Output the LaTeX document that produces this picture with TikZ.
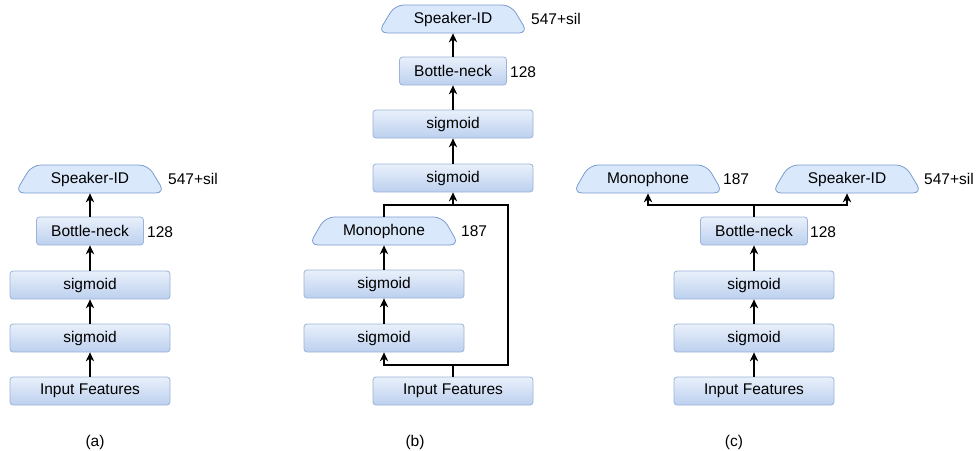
\documentclass[tikz,border=0pt]{standalone}
\usepackage{fontspec}
\setmainfont{Liberation Sans}
\usetikzlibrary{shapes.geometric,arrows.meta}
\definecolor{boxline}{HTML}{9AB3D8}
\definecolor{boxtop}{HTML}{E9F0FB}
\definecolor{boxbot}{HTML}{BCD0EE}
\definecolor{outfill}{HTML}{DAE8FC}
\definecolor{outline}{HTML}{7B9DCF}

\begin{document}
\begin{tikzpicture}[x=1pt,y=-1pt,
    font=\fontsize{15.5}{18}\selectfont,
    layer/.style={rectangle,rounded corners=3pt,draw=boxline,line width=0.8pt,
      top color=boxtop,bottom color=boxbot,minimum width=160pt,minimum height=28pt,inner sep=0pt},
    bneck/.style={layer,minimum width=107pt},
    outlayer/.style={trapezium,trapezium left angle=52,trapezium right angle=52,
      rounded corners=9pt,draw=outline,line width=0.8pt,fill=outfill,
      minimum width=150pt,minimum height=28pt,inner sep=0pt,trapezium stretches=true},
    dim/.style={anchor=west,inner sep=0pt},
    arr/.style={-{Stealth[length=9pt,width=8.5pt]},line width=1.2pt},
    lnk/.style={line width=1.2pt}]
  \useasboundingbox (0,0) rectangle (977,450);

  % (a)
  \node[layer] (inA) at (90,391) {Input Features};
  \node[layer] (sigA1) at (90,338) {sigmoid};
  \node[layer] (sigA2) at (90,285) {sigmoid};
  \node[bneck] (bnA) at (90,231) {Bottle-neck};
  \node[outlayer] (spkA) at (90,179) {Speaker-ID};
  \node[dim] (bnAdim) at (147,232) {128};
  \node[dim] (spkAdim) at (168,179) {547+sil};
  \draw[arr] (inA) -- (sigA1);
  \draw[arr] (sigA1) -- (sigA2);
  \draw[arr] (sigA2) -- (bnA);
  \draw[arr] (bnA) -- (bnA |- spkA.south);
  \node (capA) at (95,442) {(a)};

  % (b)
  \node[layer] (inB) at (453,391) {Input Features};
  \node[layer] (sigB1) at (384,338) {sigmoid};
  \node[layer] (sigB2) at (384,284) {sigmoid};
  \node[outlayer] (monoB) at (384,231) {Monophone};
  \node[layer] (sigB3) at (453,178) {sigmoid};
  \node[layer] (sigB4) at (453,124) {sigmoid};
  \node[bneck] (bnB) at (453,71) {Bottle-neck};
  \node[outlayer] (spkB) at (453,19) {Speaker-ID};
  \node[dim] (monoBdim) at (461,231) {187};
  \node[dim] (bnBdim) at (510,72) {128};
  \node[dim] (spkBdim) at (531,19) {547+sil};
  \coordinate (splitB) at (453,365);
  \coordinate (bypassB) at (508,205);
  \draw[lnk] (inB) -- (splitB);
  \draw[arr] (splitB) -| (sigB1);
  \draw[arr] (splitB) -| (bypassB) -| (sigB3);
  \draw[lnk] (monoB) |- (bypassB);
  \draw[arr] (sigB1) -- (sigB2);
  \draw[arr] (sigB2) -- (sigB2 |- monoB.south);
  \draw[arr] (sigB3) -- (sigB4);
  \draw[arr] (sigB4) -- (bnB);
  \draw[arr] (bnB) -- (bnB |- spkB.south);
  \node (capB) at (415,442) {(b)};

  % (c)
  \node[layer] (inC) at (754,391) {Input Features};
  \node[layer] (sigC1) at (754,338) {sigmoid};
  \node[layer] (sigC2) at (754,285) {sigmoid};
  \node[bneck] (bnC) at (754,231) {Bottle-neck};
  \node[outlayer] (monoC) at (648,179) {Monophone};
  \node[outlayer] (spkC) at (847,179) {Speaker-ID};
  \node[dim] (bnCdim) at (810,232) {128};
  \node[dim] (monoCdim) at (723,179) {187};
  \node[dim] (spkCdim) at (924,179) {547+sil};
  \coordinate (splitC) at (754,205);
  \draw[arr] (inC) -- (sigC1);
  \draw[arr] (sigC1) -- (sigC2);
  \draw[arr] (sigC2) -- (bnC);
  \draw[lnk] (bnC) -- (splitC);
  \draw[arr] (splitC) -| (monoC);
  \draw[arr] (splitC) -| (spkC);
  \node (capC) at (734,442) {(c)};
\end{tikzpicture}
\end{document}
